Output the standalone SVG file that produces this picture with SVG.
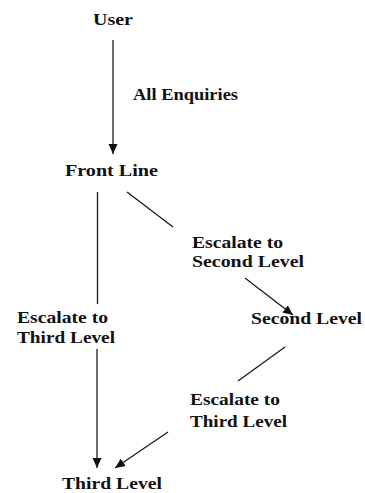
<svg xmlns="http://www.w3.org/2000/svg" width="365" height="493" viewBox="0 0 365 493">
  <style>
    text { font-weight: bold; font-size: 17px; fill: #111; }
    .edge { stroke: #1a1a1a; stroke-width: 1.3; fill: none; }
  </style>
  <defs>
    <marker id="head" markerUnits="userSpaceOnUse" markerWidth="10" markerHeight="10" refX="10" refY="4.5" orient="auto">
      <path d="M0,0 L10,4.5 L0,9 z" fill="#111"/>
    </marker>
  </defs>
  <rect width="365" height="493" fill="#fff"/>

  <g id="connectors">
    <!-- User to Front Line -->
    <line class="edge" x1="113" y1="40" x2="113" y2="154" marker-end="url(#head)"/>
    <!-- Front Line to Second Level, split around its label -->
    <line class="edge" x1="127" y1="192" x2="173" y2="227"/>
    <line class="edge" x1="245" y1="278" x2="293" y2="315" marker-end="url(#head)"/>
    <!-- Front Line straight down to Third Level -->
    <line class="edge" x1="97.5" y1="192" x2="97.5" y2="304"/>
    <line class="edge" x1="97" y1="349" x2="97" y2="468" marker-end="url(#head)"/>
    <!-- Second Level to Third Level -->
    <line class="edge" x1="285" y1="347" x2="238" y2="381"/>
    <line class="edge" x1="168" y1="432" x2="115" y2="468" marker-end="url(#head)"/>
  </g>

  <g font-family="Liberation Serif, Times New Roman, serif">
    <g id="edge-labels">
      <text x="133" y="100" textLength="105" lengthAdjust="spacingAndGlyphs">All Enquiries</text>
      <text x="192" y="248" textLength="91" lengthAdjust="spacingAndGlyphs">Escalate to</text>
      <text x="192" y="267" textLength="112" lengthAdjust="spacingAndGlyphs">Second Level</text>
      <text x="17" y="323" textLength="91" lengthAdjust="spacingAndGlyphs">Escalate to</text>
      <text x="17" y="343" textLength="98" lengthAdjust="spacingAndGlyphs">Third Level</text>
      <text x="190" y="405" textLength="90" lengthAdjust="spacingAndGlyphs">Escalate to</text>
      <text x="190" y="427" textLength="97" lengthAdjust="spacingAndGlyphs">Third Level</text>
    </g>

    <g id="user">
      <text x="93" y="25" textLength="40" lengthAdjust="spacingAndGlyphs">User</text>
    </g>
    <g id="front-line">
      <text x="65" y="176" textLength="93" lengthAdjust="spacingAndGlyphs">Front Line</text>
    </g>
    <g id="second-level">
      <text x="251" y="324" textLength="111" lengthAdjust="spacingAndGlyphs">Second Level</text>
    </g>
    <g id="third-level">
      <text x="62" y="489" textLength="100" lengthAdjust="spacingAndGlyphs">Third Level</text>
    </g>
  </g>
</svg>
